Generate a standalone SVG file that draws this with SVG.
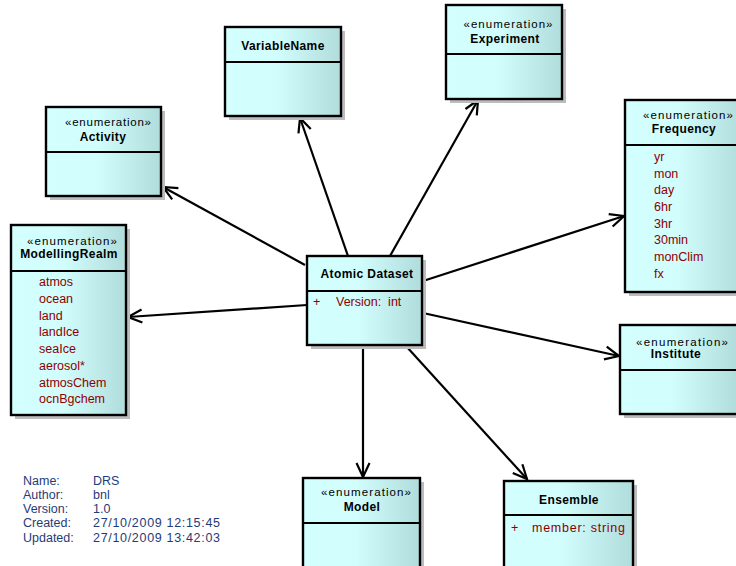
<svg xmlns="http://www.w3.org/2000/svg" width="736" height="566" viewBox="0 0 736 566">
  <defs>
    <linearGradient id="cls" x1="0" y1="0" x2="1" y2="0">
      <stop offset="0" stop-color="#d3ffff"/>
      <stop offset="0.45" stop-color="#d1fdfd"/>
      <stop offset="1" stop-color="#b0dcdc"/>
    </linearGradient>
    <marker id="open" viewBox="-2 -9 18 18" refX="14" refY="0" markerWidth="18" markerHeight="18" markerUnits="userSpaceOnUse" orient="auto">
      <path d="M0,-6.5 L14,0 L0,6.5" fill="none" stroke="#000" stroke-width="2.2"/>
    </marker>
    <style>
      .shadow { fill: #bcbcbc; }
      .box { fill: url(#cls); stroke: #000; stroke-width: 2.4; }
      .div { stroke: #000; stroke-width: 2.2; }
      .stereo { font-family: "Liberation Sans", Arial, sans-serif; font-size: 11.5px; fill: #000; text-anchor: middle; }
      .title { font-family: "Liberation Sans", Arial, sans-serif; font-size: 12px; font-weight: bold; fill: #000; text-anchor: middle; letter-spacing: 0.4px; }
      .attr { font-family: "Liberation Sans", Arial, sans-serif; font-size: 12.5px; fill: #8e0000; }
      .info { font-family: "Liberation Sans", Arial, sans-serif; font-size: 12.5px; fill: #1e3c78; }
      .conn line { stroke: #000; stroke-width: 2.2; marker-end: url(#open); }
    </style>
  </defs>

  <rect width="736" height="566" fill="#ffffff"/>

  <!-- associations from Atomic Dataset -->
  <g id="connectors" class="conn">
    <line x1="305" y1="265" x2="163" y2="187"/>
    <line x1="348" y1="256" x2="300" y2="118"/>
    <line x1="390" y1="256" x2="478" y2="100"/>
    <line x1="423" y1="281" x2="624" y2="216"/>
    <line x1="307" y1="305" x2="128" y2="317"/>
    <line x1="423" y1="313" x2="619" y2="356"/>
    <line x1="363" y1="345" x2="363" y2="477"/>
    <line x1="406" y1="346" x2="527" y2="479"/>
  </g>

  <g id="activity">
    <rect class="shadow" x="50" y="111" width="115" height="89"/>
    <rect class="box" x="46" y="107" width="115" height="89"/>
    <line class="div" x1="46" y1="152" x2="161" y2="152"/>
    <text class="stereo" x="108" y="126" textLength="86" lengthAdjust="spacing">«enumeration»</text>
    <text class="title" x="103" y="141">Activity</text>
  </g>

  <g id="variable-name">
    <rect class="shadow" x="229" y="31" width="116" height="89"/>
    <rect class="box" x="225" y="27" width="116" height="89"/>
    <line class="div" x1="225" y1="62" x2="341" y2="62"/>
    <text class="title" x="283" y="50">VariableName</text>
  </g>

  <g id="experiment">
    <rect class="shadow" x="450" y="9" width="116" height="94"/>
    <rect class="box" x="446" y="5" width="116" height="94"/>
    <line class="div" x1="446" y1="54" x2="562" y2="54"/>
    <text class="stereo" x="508" y="28" textLength="89" lengthAdjust="spacing">«enumeration»</text>
    <text class="title" x="505" y="43">Experiment</text>
  </g>

  <g id="frequency">
    <rect class="shadow" x="629" y="104" width="118" height="192"/>
    <rect class="box" x="625" y="100" width="118" height="192"/>
    <line class="div" x1="625" y1="145" x2="743" y2="145"/>
    <text class="stereo" x="688" y="119" textLength="90" lengthAdjust="spacing">«enumeration»</text>
    <text class="title" x="684" y="133">Frequency</text>
    <text class="attr" x="654" y="161">yr</text>
    <text class="attr" x="654" y="178">mon</text>
    <text class="attr" x="654" y="194">day</text>
    <text class="attr" x="654" y="211">6hr</text>
    <text class="attr" x="654" y="228">3hr</text>
    <text class="attr" x="654" y="244">30min</text>
    <text class="attr" x="654" y="261">monClim</text>
    <text class="attr" x="654" y="278">fx</text>
  </g>

  <g id="modelling-realm">
    <rect class="shadow" x="15" y="229" width="115" height="190"/>
    <rect class="box" x="11" y="225" width="115" height="190"/>
    <line class="div" x1="11" y1="271" x2="126" y2="271"/>
    <text class="stereo" x="72" y="245" textLength="90" lengthAdjust="spacing">«enumeration»</text>
    <text class="title" x="69" y="258" letter-spacing="0.6">ModellingRealm</text>
    <text class="attr" x="39" y="286">atmos</text>
    <text class="attr" x="39" y="303">ocean</text>
    <text class="attr" x="39" y="320">land</text>
    <text class="attr" x="39" y="336">landIce</text>
    <text class="attr" x="39" y="353">seaIce</text>
    <text class="attr" x="39" y="370">aerosol*</text>
    <text class="attr" x="39" y="387">atmosChem</text>
    <text class="attr" x="39" y="403">ocnBgchem</text>
  </g>

  <g id="atomic-dataset">
    <rect class="shadow" x="311" y="260" width="115" height="89"/>
    <rect class="box" x="307" y="256" width="115" height="89"/>
    <line class="div" x1="307" y1="291" x2="422" y2="291"/>
    <text class="title" x="367" y="278" letter-spacing="0.7">Atomic Dataset</text>
    <text class="attr" x="313" y="306">+</text>
    <text class="attr" x="336" y="306" xml:space="preserve">Version:  int</text>
  </g>

  <g id="institute">
    <rect class="shadow" x="624" y="329" width="118" height="89"/>
    <rect class="box" x="620" y="325" width="118" height="89"/>
    <line class="div" x1="620" y1="370" x2="738" y2="370"/>
    <text class="stereo" x="682" y="346" textLength="92" lengthAdjust="spacing">«enumeration»</text>
    <text class="title" x="676" y="358">Institute</text>
  </g>

  <g id="model">
    <rect class="shadow" x="307" y="482" width="117" height="100"/>
    <rect class="box" x="303" y="478" width="117" height="100"/>
    <line class="div" x1="303" y1="523" x2="420" y2="523"/>
    <text class="stereo" x="366" y="496" textLength="90" lengthAdjust="spacing">«enumeration»</text>
    <text class="title" x="362" y="511">Model</text>
  </g>

  <g id="ensemble">
    <rect class="shadow" x="508" y="485" width="129" height="100"/>
    <rect class="box" x="504" y="481" width="129" height="100"/>
    <line class="div" x1="504" y1="515" x2="633" y2="515"/>
    <text class="title" x="569" y="504">Ensemble</text>
    <text class="attr" x="511" y="532">+</text>
    <text class="attr" x="532" y="532" textLength="93" lengthAdjust="spacing">member: string</text>
  </g>

  <!-- document properties -->
  <g id="properties" class="info">
    <text x="23" y="485">Name:</text>
    <text x="93" y="485">DRS</text>
    <text x="23" y="499">Author:</text>
    <text x="93" y="499">bnl</text>
    <text x="23" y="513">Version:</text>
    <text x="93" y="513">1.0</text>
    <text x="23" y="527">Created:</text>
    <text x="93" y="527" textLength="127" lengthAdjust="spacing">27/10/2009 12:15:45</text>
    <text x="23" y="542">Updated:</text>
    <text x="93" y="542" textLength="127" lengthAdjust="spacing">27/10/2009 13:42:03</text>
  </g>
</svg>
